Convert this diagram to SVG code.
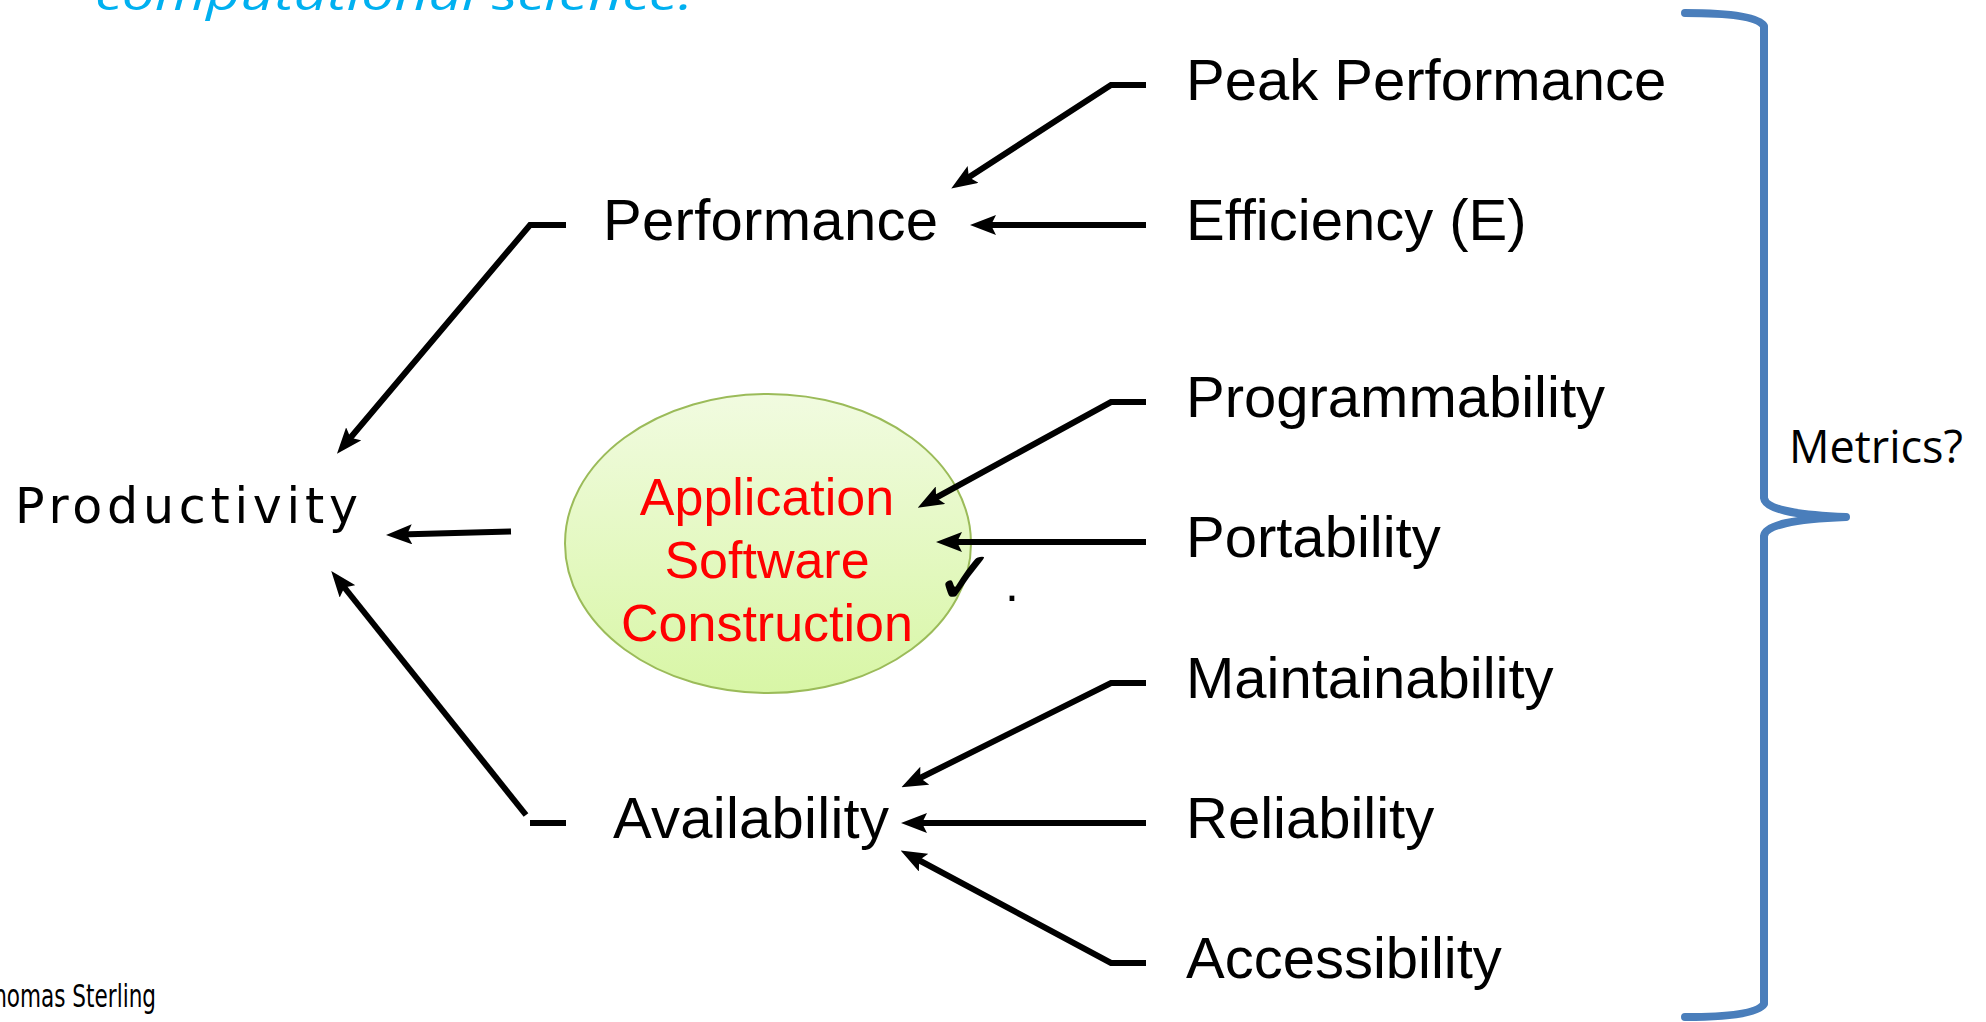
<svg xmlns="http://www.w3.org/2000/svg" width="1986" height="1022" viewBox="0 0 1986 1022">
<style>
.lbl{font-family:"Liberation Sans",Arial,sans-serif;font-size:58px;fill:#000}
.red{font-family:"Liberation Sans",Arial,sans-serif;font-size:52px;fill:#FF0000;text-anchor:middle}
.ln{stroke:#000;stroke-width:6;fill:none;stroke-linejoin:miter}
.arr{stroke:#000;stroke-width:6;fill:none;marker-end:url(#ah)}
</style>
<defs>
<marker id="ah" markerUnits="userSpaceOnUse" viewBox="0 0 26 20" refX="12" refY="10" markerWidth="26" markerHeight="20" orient="auto">
<path d="M0,0 L26,10 L0,20 L5,10 Z" fill="#000"/>
</marker>
<linearGradient id="eg" x1="0" y1="0" x2="0" y2="1">
<stop offset="0" stop-color="#F1FBE0"/>
<stop offset="1" stop-color="#D8F6A6"/>
</linearGradient>
</defs>
<rect width="1986" height="1022" fill="#fff"/>
<text x="95" y="10" font-family="'Open Sans','DejaVu Sans',sans-serif" font-style="italic" font-size="46" fill="#00B0F0" textLength="598" lengthAdjust="spacingAndGlyphs">computational science.</text>
<g id="productivity"><text x="15" y="523" font-family="'DejaVu Sans',sans-serif" font-size="49" fill="#000" textLength="343" lengthAdjust="spacing">Productivity</text></g>
<g id="performance"><text class="lbl" x="603" y="240" textLength="335">Performance</text></g>
<g id="availability"><text class="lbl" x="613" y="838" textLength="276">Availability</text></g>
<g id="asc">
<ellipse cx="768" cy="543.5" rx="203" ry="149.5" fill="url(#eg)" stroke="#9BBB59" stroke-width="2"/>
<text class="red" x="767" y="515">Application</text>
<text class="red" x="767" y="578">Software</text>
<text class="red" x="767" y="641">Construction</text>
<text x="934" y="604" font-family="'DejaVu Sans',sans-serif" font-size="75" fill="#000">✓</text>
</g>
<text x="1005" y="601" font-family="'Liberation Sans',sans-serif" font-size="50" fill="#000">.</text>
<g id="peak"><text class="lbl" x="1186" y="100">Peak Performance</text></g>
<g id="efficiency"><text class="lbl" x="1186" y="240">Efficiency (E)</text></g>
<g id="programmability"><text class="lbl" x="1186" y="417">Programmability</text></g>
<g id="portability"><text class="lbl" x="1186" y="557">Portability</text></g>
<g id="maintainability"><text class="lbl" x="1186" y="698">Maintainability</text></g>
<g id="reliability"><text class="lbl" x="1186" y="838">Reliability</text></g>
<g id="accessibility"><text class="lbl" x="1186" y="978">Accessibility</text></g>
<g id="metrics">
<path d="M1685,13 Q1756,13 1764,26 L1764,498 Q1766,514 1846,517 Q1766,520 1764,536 L1764,1004 Q1756,1017 1685,1017" fill="none" stroke="#4A7EBB" stroke-width="8" stroke-linecap="round" stroke-linejoin="round"/>
<text x="1789" y="463" font-family="'Open Sans',sans-serif" font-size="46" fill="#000" textLength="174" lengthAdjust="spacingAndGlyphs">Metrics?</text>
</g>
<text x="-20" y="1007" font-family="'DejaVu Sans Condensed','DejaVu Sans',sans-serif" font-size="32" fill="#000" textLength="176" lengthAdjust="spacingAndGlyphs">Thomas Sterling</text>
<g id="connectors">
<polyline class="ln" points="566,225 530,225 346,443" marker-end="url(#ah)"/>
<line class="arr" x1="511" y1="531.5" x2="400" y2="534.6"/>
<line class="ln" x1="530" y1="823" x2="566" y2="823"/>
<line class="arr" x1="526" y1="815" x2="340" y2="582"/>
<polyline class="ln" points="1146,85 1111,85 963,181" marker-end="url(#ah)"/>
<line class="arr" x1="1146" y1="225" x2="984" y2="225"/>
<polyline class="ln" points="1146,402 1111,402 930,501" marker-end="url(#ah)"/>
<line class="arr" x1="1146" y1="542" x2="950" y2="542"/>
<polyline class="ln" points="1146,683 1111,683 914,781" marker-end="url(#ah)"/>
<line class="arr" x1="1146" y1="823" x2="915" y2="823"/>
<polyline class="ln" points="1146,963 1111,963 913,857" marker-end="url(#ah)"/>
</g>
</svg>
